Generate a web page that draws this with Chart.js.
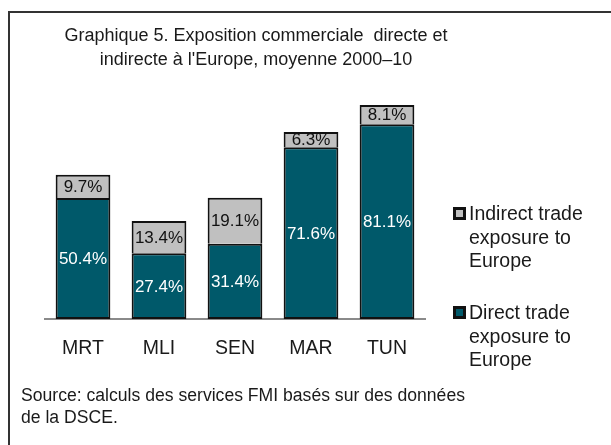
<!DOCTYPE html>
<html>
<head>
<meta charset="utf-8">
<script src="https://cdn.jsdelivr.net/npm/chart.js@4"></script>
<style>
  html, body { margin: 0; padding: 0; background: #fff; }
  #wrap { width: 611px; height: 445px; position: relative; }
</style>
</head>
<body>
<div id="wrap"><canvas id="chart" width="611" height="445"></canvas></div>
<script>
// Chart data
const categories = ['MRT', 'MLI', 'SEN', 'MAR', 'TUN'];
const directValues = [50.4, 27.4, 31.4, 71.6, 81.1];
const indirectValues = [9.7, 13.4, 19.1, 6.3, 8.1];

const titleLines = ['Graphique 5. Exposition commerciale  directe et', 'indirecte à l\'Europe, moyenne 2000–10'];
const sourceLines = ['Source: calculs des services FMI basés sur des données', 'de la DSCE.'];
const indirectLegend = ['Indirect trade', 'exposure to', 'Europe'];
const directLegend = ['Direct trade', 'exposure to', 'Europe'];

const FONT = '"Liberation Sans", Arial, sans-serif';
const TEAL = '#00596A';
const GREY = '#C0C0C0';
const TEXT = '#1a1a1a';

/**
 * Draws the frame, title, legend and source note around the plot
 */
const decorations = {
    id: 'decorations',
    beforeDraw(chart) {
        const ctx = chart.ctx;
        ctx.save();
        ctx.fillStyle = '#fff';
        ctx.fillRect(0, 0, chart.width, chart.height);
        ctx.restore();
    },
    afterDraw(chart) {
        const ctx = chart.ctx;
        ctx.save();

        // Frame: top and left edges only
        ctx.strokeStyle = '#333';
        ctx.lineWidth = 2;
        ctx.beginPath();
        ctx.moveTo(chart.width, 12);
        ctx.lineTo(9, 12);
        ctx.lineTo(9, chart.height);
        ctx.stroke();

        ctx.fillStyle = TEXT;
        ctx.textBaseline = 'middle';

        // Title
        ctx.font = '18px ' + FONT;
        ctx.textAlign = 'center';
        titleLines.forEach((line, i) => ctx.fillText(line, 256, 36 + i * 24));

        // Legend
        ctx.font = '19.5px ' + FONT;
        ctx.textAlign = 'left';
        const drawEntry = (lines, fill, y) => {
            ctx.fillStyle = '#111';
            ctx.fillRect(453, y - 7, 13, 13);
            ctx.fillStyle = fill;
            ctx.fillRect(456, y - 4, 7, 7);
            ctx.fillStyle = TEXT;
            lines.forEach((line, i) => ctx.fillText(line, 469, y + 1 + i * 23.5));
        };
        drawEntry(indirectLegend, GREY, 214);
        drawEntry(directLegend, TEAL, 313);

        // Source note
        ctx.font = '17.6px ' + FONT;
        sourceLines.forEach((line, i) => ctx.fillText(line, 21, 396 + i * 22));

        ctx.restore();
    }
};

/**
 * Writes the value inside each bar segment
 */
const segmentLabels = {
    id: 'segmentLabels',
    afterDatasetsDraw(chart) {
        const ctx = chart.ctx;
        ctx.save();
        ctx.font = '17px ' + FONT;
        ctx.textAlign = 'center';
        ctx.textBaseline = 'middle';
        chart.data.datasets.forEach((ds, di) => {
            const meta = chart.getDatasetMeta(di);
            meta.data.forEach((bar, i) => {
                const y = (bar.y + bar.base) / 2;
                ctx.fillStyle = di === 0 ? '#fff' : '#111';
                ctx.fillText(ds.data[i].toFixed(1) + '%', bar.x, y + 1);
            });
        });
        ctx.restore();
    }
};

const ctx = document.getElementById('chart').getContext('2d');
new Chart(ctx, {
    type: 'bar',
    data: {
        labels: categories,
        datasets: [
            {
                label: 'Direct trade exposure to Europe',
                data: directValues,
                backgroundColor: TEAL,
                borderColor: '#111',
                borderWidth: 2,
                borderSkipped: false,
            },
            {
                label: 'Indirect trade exposure to Europe',
                data: indirectValues,
                backgroundColor: GREY,
                borderColor: '#111',
                borderWidth: 2,
                borderSkipped: 'bottom',
            }
        ]
    },
    options: {
        responsive: false,
        animation: false,
        devicePixelRatio: 1,
        layout: {
            padding: { left: 45, right: 186, top: 79, bottom: 0 }
        },
        datasets: {
            bar: { categoryPercentage: 1, barPercentage: 0.72 }
        },
        plugins: {
            legend: { display: false },
            title: { display: false },
            tooltip: { enabled: false }
        },
        scales: {
            x: {
                stacked: true,
                grid: { display: false, drawTicks: false },
                border: { display: true, color: '#8a8a8a', width: 2 },
                ticks: {
                    color: TEXT,
                    padding: 18,
                    font: { family: FONT, size: 19.5 }
                },
                afterFit(scale) { scale.height = 126; }
            },
            y: {
                stacked: true,
                display: false,
                min: 0,
                max: 100
            }
        }
    },
    plugins: [decorations, segmentLabels]
});
</script>
</body>
</html>
